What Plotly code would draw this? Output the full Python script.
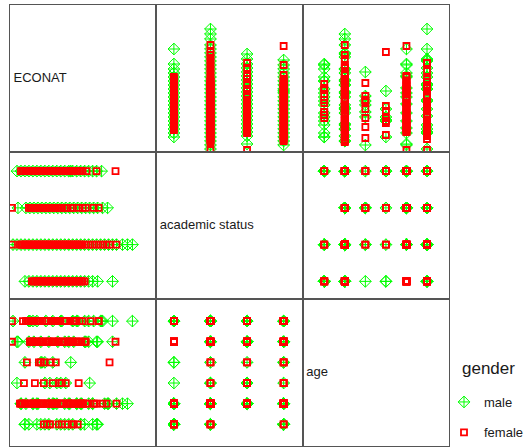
import plotly.graph_objects as go
from plotly.subplots import make_subplots

variables = ["ECONAT", "academic status", "age"]
genders = ["male", "female"]

# ---- female records, grouped by academic status (ECONAT value, age level) ----
f_econat_s1 = [22, 25, 28, 31, 34, 37, 40, 43, 46, 49, 52, 55, 58, 61, 64, 67, 70, 73, 75,
               23.5, 26.5, 29.5, 32.5, 35.5, 38.5, 41.5, 44.5, 47.5, 50.5, 53.5, 56.5, 59.5, 62.5, 65.5,
               68.5, 71.5]
f_age_s1 = [2, 5, 6, 2, 1, 5, 1, 6, 2, 1, 5, 6, 1, 2, 1, 5, 6, 2, 5,
            2, 5, 6, 2, 5, 6, 2, 5, 6, 2, 5, 6, 2, 5, 6, 2, 5]
f_econat_s2 = [2, 10, 13, 16, 19, 22, 25, 28, 31, 34, 37, 40, 43, 46, 49, 52, 55, 58, 61, 64, 67, 70, 73,
               77, 81, 85, 89, 93, 97, 100, 107, 50.5,
               11.5, 14.5, 17.5, 20.5, 23.5, 26.5, 29.5, 32.5, 35.5, 38.5, 41.5, 44.5, 47.5, 53.5, 56.5,
               59.5, 62.5, 65.5, 68.5, 71.5]
f_age_s2 = [6, 2, 6, 6, 2, 5, 6, 2, 4, 3, 1, 1, 3, 2, 5, 1, 6, 2, 5, 6, 2, 5, 2,
            2, 6, 2, 6, 2, 2, 4, 2, 2,
            2, 2, 6, 5, 2, 6, 5, 2, 6, 5, 2, 6, 5, 2, 6, 5, 2, 6, 5, 2]
f_econat_s3 = [2, 19, 22, 25, 28, 31, 34, 37, 40, 43, 46, 49, 52, 55, 58, 61, 63, 69, 73, 76, 84, 89, 35.5,
               20.5, 23.5, 26.5, 29.5, 32.5, 38.5, 41.5, 44.5, 47.5, 50.5]
f_age_s3 = [5, 2, 6, 3, 5, 2, 4, 6, 5, 2, 4, 6, 3, 5, 2, 6, 5, 3, 2, 5, 2, 6, 2,
            6, 5, 2, 6, 5, 2, 6, 5, 2, 6]
f_econat_s4 = [11, 14, 17, 20, 23, 26, 29, 32, 35, 38, 41, 44, 47, 50, 53, 56, 59, 62, 65, 68, 71, 73,
               77, 87, 106, 64,
               12.5, 15.5, 18.5, 21.5, 24.5, 27.5, 30.5, 33.5, 36.5, 39.5, 42.5, 45.5, 48.5, 51.5, 54.5,
               57.5, 60.5, 63.5, 66.5, 69.5]
f_age_s4 = [2, 3, 4, 5, 6, 2, 4, 5, 6, 2, 4, 5, 6, 3, 2, 3, 5, 1, 6, 1, 2, 6, 2, 2, 5, 2,
            2, 2, 6, 5, 2, 6, 5, 2, 6, 5, 2, 6, 5, 2, 6, 5, 2, 6, 5, 2]

# ---- male records, grouped by academic status ----
m_econat_s1 = [15, 19, 23, 27, 31, 35, 39, 43, 47, 51, 55, 59, 63, 67, 71, 75, 79, 83, 88, 103]
m_age_s1 = [4, 1, 2, 6, 1, 3, 2, 4, 1, 6, 2, 1, 6, 2, 1, 6, 2, 1, 1, 6]
m_econat_s2 = [3, 7, 11, 15, 19, 23, 27, 31, 35, 39, 43, 47, 51, 55, 59, 63, 67, 71, 75, 79, 83, 87, 91,
               95, 99, 103, 107, 113, 118, 123]
m_age_s2 = [6, 3, 2, 1, 5, 6, 2, 4, 1, 5, 6, 2, 3, 1, 5, 6, 2, 1, 5, 6, 2, 5, 6, 2, 2, 5, 2, 2, 2, 6]
m_econat_s3 = [8, 16, 20, 24, 28, 32, 36, 40, 44, 48, 52, 56, 60, 64, 68, 72, 76, 80, 84, 88, 93, 98]
m_age_s3 = [5, 2, 6, 5, 2, 4, 6, 3, 2, 5, 6, 3, 2, 5, 6, 2, 5, 3, 6, 5, 6, 2]
m_econat_s4 = [7, 11, 15, 19, 23, 27, 31, 35, 39, 43, 47, 51, 55, 59, 61, 63, 67, 71, 75, 79, 83, 87, 92]
m_age_s4 = [5, 2, 1, 6, 2, 1, 5, 4, 1, 2, 3, 1, 5, 2, 4, 1, 6, 2, 1, 5, 2, 1, 6]

status_levels = [1, 2, 3, 4]


def build(econ_groups, age_groups):
    econ, stat, age = [], [], []
    for lvl, e_list, a_list in zip(status_levels, econ_groups, age_groups):
        econ += e_list
        age += a_list
        stat += [lvl] * len(e_list)
    return {"ECONAT": econ, "academic status": stat, "age": age}


data = {
    "male": build([m_econat_s1, m_econat_s2, m_econat_s3, m_econat_s4],
                  [m_age_s1, m_age_s2, m_age_s3, m_age_s4]),
    "female": build([f_econat_s1, f_econat_s2, f_econat_s3, f_econat_s4],
                    [f_age_s1, f_age_s2, f_age_s3, f_age_s4]),
}

ranges = {"ECONAT": [0, 147], "academic status": [0.52, 4.52], "age": [-0.05, 7.07]}
styles = {
    "male": dict(symbol="diamond-cross-open", size=9, color="#00ff00", line=dict(width=1, color="#00ff00")),
    "female": dict(symbol="square-open", size=6, color="#ff0000", line=dict(width=1.8, color="#ff0000")),
}

fig = make_subplots(rows=3, cols=3, horizontal_spacing=0, vertical_spacing=0)

font_family = "Liberation Sans, Arial, Helvetica, sans-serif"
panel_px = 146.3
shown = set()
for r in range(3):
    for c in range(3):
        xr = ranges[variables[c]]
        yr = ranges[variables[r]]
        if r == c:
            fig.add_trace(go.Scatter(
                x=[xr[0] + 3.5 * (xr[1] - xr[0]) / panel_px], y=[(yr[0] + yr[1]) / 2],
                mode="text", text=[variables[r]],
                textposition="middle right", showlegend=False, hoverinfo="skip",
                textfont=dict(family=font_family, size=13, color="#1a1a1a")),
                row=r + 1, col=c + 1)
        else:
            for g in genders:
                fig.add_trace(go.Scatter(
                    x=data[g][variables[c]], y=data[g][variables[r]],
                    mode="markers", name=g, legendgroup=g,
                    showlegend=g not in shown, marker=styles[g], hoverinfo="skip"),
                    row=r + 1, col=c + 1)
                shown.add(g)
        fig.update_xaxes(range=xr, row=r + 1, col=c + 1)
        fig.update_yaxes(range=yr, row=r + 1, col=c + 1)

fig.update_xaxes(showticklabels=False, showgrid=False, zeroline=False, ticks="",
                 showline=True, mirror=True, linecolor="#555555", linewidth=1)
fig.update_yaxes(showticklabels=False, showgrid=False, zeroline=False, ticks="",
                 showline=True, mirror=True, linecolor="#555555", linewidth=1)

fig.add_annotation(text="gender", xref="paper", yref="paper", x=(460 - 10) / 439, y=(446 - 368) / 441,
                   xanchor="left", yanchor="middle", showarrow=False,
                   font=dict(family=font_family, size=17, color="#1a1a1a"))

fig.update_layout(
    width=527, height=447,
    margin=dict(l=10, r=78, t=5, b=1, autoexpand=False),
    plot_bgcolor="white", paper_bgcolor="white",
    font=dict(family=font_family, color="#1a1a1a"),
    legend=dict(x=(444 - 10) / 439, xanchor="left", y=(446 - 387) / 441, yanchor="top",
                bgcolor="rgba(0,0,0,0)", tracegroupgap=10.5, font=dict(size=13, family=font_family)),
)

fig.write_html("out.html", config={"displayModeBar": False},
               post_script="document.body.style.margin='0px';")
